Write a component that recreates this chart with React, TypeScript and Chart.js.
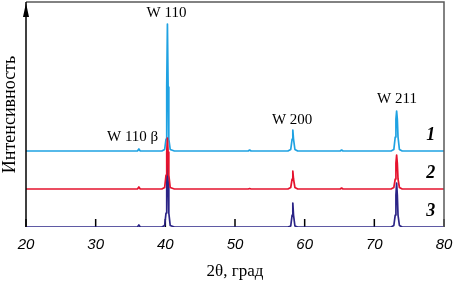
import React, { useEffect, useRef } from 'react';
import { Chart, registerables } from 'chart.js';

Chart.register(...registerables);

// 2θ grid (degrees)
const angles = [20, 36.0, 36.2, 36.4, 39.5, 39.9, 40.1, 40.2, 40.3, 40.4, 40.5, 40.7, 41.3, 51.9, 52.1, 52.3, 57.6, 58.0, 58.2, 58.3, 58.4, 58.6, 59.0, 65.1, 65.3, 65.5, 72.4, 72.8, 73.0, 73.1, 73.2, 73.3, 73.4, 73.6, 74.0, 80];

// Intensity (offset curves), same length as angles
const curve1 = [76, 76, 78, 76, 76, 77.5, 88, 140, 203, 140, 88, 77.5, 76, 76, 77, 76, 76, 77.5, 88, 97, 88, 77.5, 76, 76, 77, 76, 76, 77.5, 90, 108, 116, 108, 90, 77.5, 76, 76];
const curve2 = [38, 38, 40, 38, 38, 39.5, 52, 75, 89, 75, 52, 39.5, 38, 38, 38.5, 38, 38, 39.5, 48, 56, 48, 39.5, 38, 38, 39, 38, 38, 39.5, 48, 64, 72, 64, 48, 39.5, 38, 38];
const curve3 = [0, 0, 2, 0, 0, 1.5, 14, 45, 70, 45, 14, 1.5, 0, 0, 0, 0, 0, 1, 12, 24, 12, 1, 0, 0, 0, 0, 0, 1.5, 12, 32, 44, 32, 12, 1.5, 0, 0];

const xTicks = [20, 30, 40, 50, 60, 70, 80];

const peakLabels = ['W 110', 'W 110 β', 'W 200', 'W 211'];
const peakLabelAngle = [40.17, 35.3, 58.2, 73.25];
const peakLabelLevel = [213.5, 90, 107, 128];

const curveLabels = ['1', '2', '3'];
const curveLabelAngle = [78.1, 78.1, 78.1];
const curveLabelLevel = [92, 54, 16];

const decor = {
  id: 'decor',
  beforeDatasetsDraw(chart: any) {
    const { ctx, chartArea: a, scales } = chart;
    const x = scales.x;
    ctx.save();
    ctx.strokeStyle = '#000';
    ctx.lineWidth = 1.5;
    xTicks.forEach((v) => {
      const px = x.getPixelForValue(v);
      ctx.beginPath();
      ctx.moveTo(px, a.bottom);
      ctx.lineTo(px, a.bottom - 8);
      ctx.stroke();
    });
    ctx.restore();
  },
  afterDatasetsDraw(chart: any) {
    const { ctx, chartArea: a, scales } = chart;
    const x = scales.x;
    const y = scales.y;
    ctx.save();
    // top & right frame
    ctx.strokeStyle = '#5a5a5a';
    ctx.lineWidth = 1.5;
    ctx.beginPath();
    ctx.moveTo(a.left, a.top);
    ctx.lineTo(a.right, a.top);
    ctx.lineTo(a.right, a.bottom);
    ctx.stroke();
    // left axis with arrow
    ctx.strokeStyle = '#000';
    ctx.beginPath();
    ctx.moveTo(a.left, a.bottom);
    ctx.lineTo(a.left, a.top);
    ctx.stroke();
    ctx.fillStyle = '#000';
    ctx.beginPath();
    ctx.moveTo(a.left, a.top + 1);
    ctx.lineTo(a.left - 3, a.top + 15);
    ctx.lineTo(a.left + 3, a.top + 15);
    ctx.closePath();
    ctx.fill();
    // peak labels
    ctx.fillStyle = '#000';
    ctx.textAlign = 'center';
    ctx.textBaseline = 'middle';
    ctx.font = '15px "Liberation Serif", "Times New Roman", serif';
    peakLabels.forEach((t, i) => {
      ctx.fillText(t, x.getPixelForValue(peakLabelAngle[i]), y.getPixelForValue(peakLabelLevel[i]));
    });
    ctx.font = 'italic bold 18px "Liberation Serif", "Times New Roman", serif';
    curveLabels.forEach((t, i) => {
      ctx.fillText(t, x.getPixelForValue(curveLabelAngle[i]), y.getPixelForValue(curveLabelLevel[i]));
    });
    ctx.restore();
  },
};

export default function App() {
  const ref = useRef<HTMLCanvasElement | null>(null);
  useEffect(() => {
    if (!ref.current) return;
    const mk = (arr: number[]) => angles.map((a, i) => ({ x: a, y: arr[i] }));
    const common = { borderWidth: 1.7, pointRadius: 0, tension: 0, borderJoinStyle: 'round' as const, borderCapStyle: 'round' as const };
    const chart = new Chart(ref.current, {
      type: 'line',
      data: {
        datasets: [
          { label: '2', data: mk(curve2), borderColor: '#e5132e', order: 0, ...common },
          { label: '3', data: mk(curve3), borderColor: '#2b2486', order: 1, ...common },
          { label: '1', data: mk(curve1), borderColor: '#1fa2e2', order: 2, ...common },
        ],
      },
      options: {
        animation: false,
        responsive: false,
        devicePixelRatio: 1,
        layout: { padding: { top: 2, right: 10, left: 0, bottom: 0 } },
        plugins: { legend: { display: false }, tooltip: { enabled: false } },
        scales: {
          x: {
            type: 'linear',
            min: 20,
            max: 80,
            afterFit: (s: any) => { s.height = 58; s.paddingLeft = 0; s.paddingRight = 0; },
            afterBuildTicks: (s: any) => { s.ticks = xTicks.map((v) => ({ value: v })); },
            grid: { display: false, drawTicks: false },
            border: { display: false },
            ticks: {
              padding: 9,
              color: '#000',
              font: { family: '"Liberation Sans", Arial, sans-serif', size: 15, style: 'italic' },
            },
            title: {
              display: true,
              text: '2θ, град',
              color: '#000',
              padding: { top: 0, bottom: 3 },
              font: { family: '"Liberation Serif", "Times New Roman", serif', size: 17 },
            },
          },
          y: {
            type: 'linear',
            min: 0,
            max: 225,
            afterFit: (s: any) => { s.width = 26; s.paddingTop = 0; s.paddingBottom = 0; },
            grid: { display: false, drawTicks: false },
            border: { display: false },
            ticks: { display: false },
            title: {
              display: true,
              text: 'Интенсивность',
              color: '#000',
              padding: { top: 1, bottom: 0 },
              font: { family: '"Liberation Serif", "Times New Roman", serif', size: 18, lineHeight: 1 },
            },
          },
        },
      },
      plugins: [decor],
    });
    return () => chart.destroy();
  }, []);
  return (
    <div style={{ position: 'absolute', left: 0, top: 0, width: 454, height: 285, background: '#fff' }}>
      <canvas ref={ref} width={454} height={285} />
    </div>
  );
}
